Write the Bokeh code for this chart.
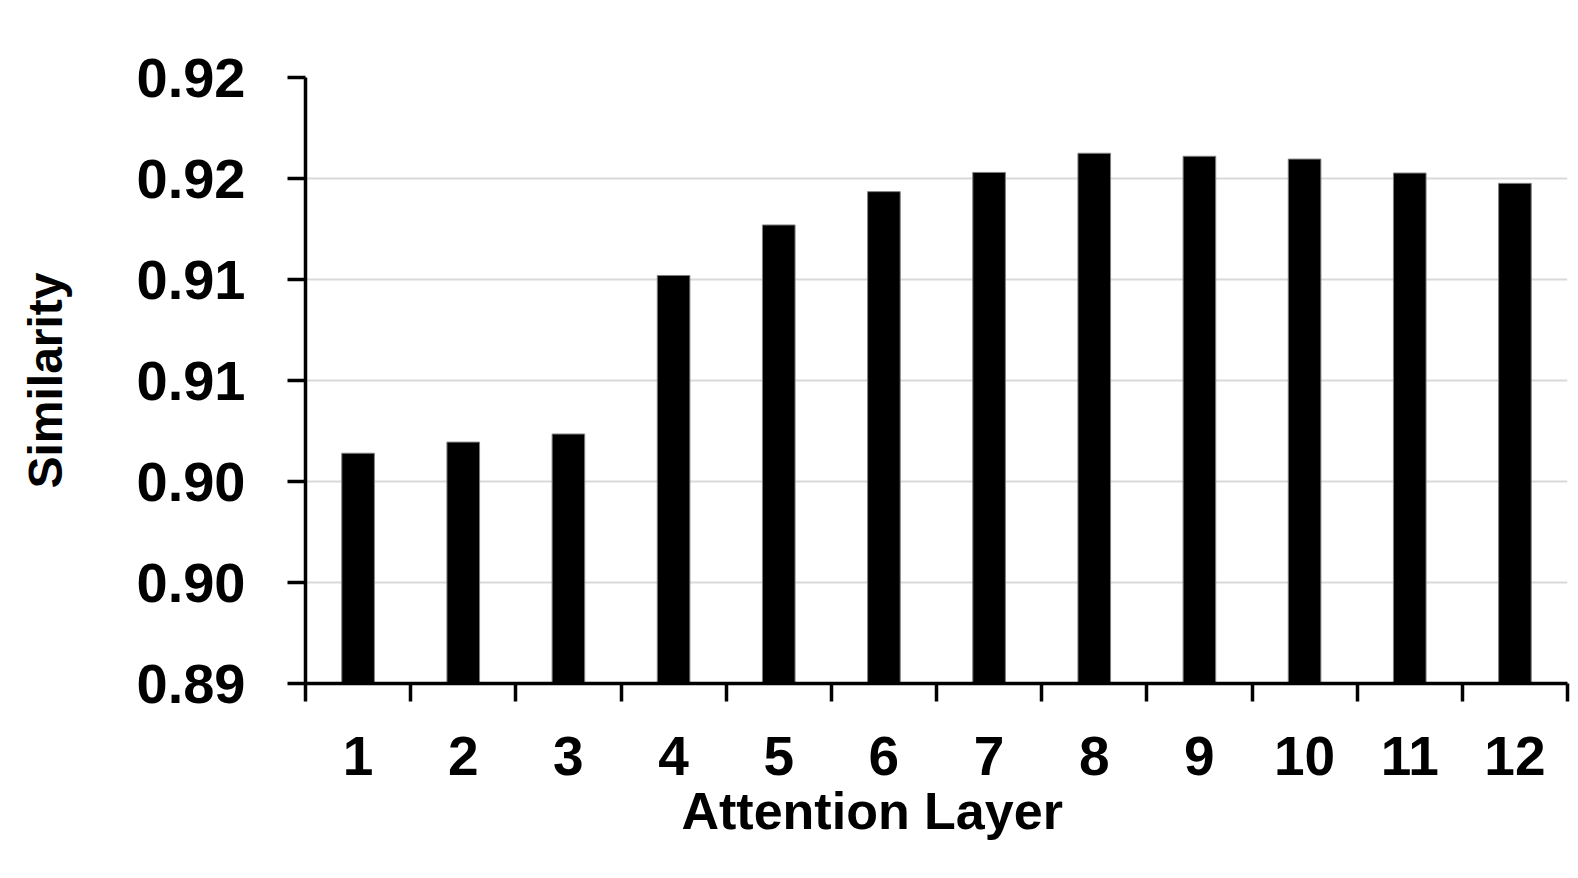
from bokeh.plotting import figure
from bokeh.models import Range1d, FixedTicker, Title, ColumnDataSource
from bokeh.embed import file_html
from bokeh.resources import INLINE

layers = [1, 2, 3, 4, 5, 6, 7, 8, 9, 10, 11, 12]
layer_labels = ["1", "2", "3", "4", "5", "6", "7", "8", "9", "10", "11", "12"]
similarity = [0.9014, 0.90195, 0.90235, 0.9102, 0.9127, 0.91435,
              0.9153, 0.91625, 0.9161, 0.91596, 0.91527, 0.91476]
y_ticks = [0.89, 0.895, 0.90, 0.905, 0.91, 0.915, 0.92]
y_tick_labels = ["0.89", "0.90", "0.90", "0.91", "0.91", "0.92", "0.92"]
x_title = "Attention Layer"
y_title = "Similarity"

FONT = "Liberation Sans"

p = figure(width=1570, height=870, output_backend="svg", toolbar_location=None,
           x_range=Range1d(0.5, 12.5), y_range=Range1d(0.89, 0.92),
           min_border_left=305, min_border_right=3, min_border_top=77,
           min_border_bottom=187)
p.outline_line_color = None
p.background_fill_color = "white"
p.border_fill_color = "white"

src = ColumnDataSource(dict(x=layers, top=similarity))
p.vbar(x="x", top="top", bottom=0.89, width=0.31, source=src,
       fill_color="black", line_color="#7f7f7f", line_width=1)

# x axis
xa = p.xaxis[0]
xa.ticker = FixedTicker(ticks=layers, minor_ticks=[v - 0.5 for v in layers] + [layers[-1] + 0.5])
xa.major_label_overrides = {v: s for v, s in zip(layers, layer_labels)}
xa.major_tick_out = 0
xa.major_tick_in = 0
xa.minor_tick_out = 18
xa.minor_tick_in = 0
xa.minor_tick_line_width = 3.5
xa.minor_tick_line_color = "black"
xa.axis_line_width = 3.5
xa.axis_line_color = "black"
xa.major_label_text_font = FONT
xa.major_label_text_font_style = "bold"
xa.major_label_text_font_size = "55px"
xa.major_label_text_color = "black"
xa.major_label_standoff = 35

# y axis
ya = p.yaxis[0]
ya.ticker = FixedTicker(ticks=y_ticks, minor_ticks=[])
ya.major_label_overrides = {v: s for v, s in zip(y_ticks, y_tick_labels)}
ya.major_tick_out = 18
ya.major_tick_in = 0
ya.major_tick_line_width = 3.5
ya.major_tick_line_color = "black"
ya.minor_tick_out = 0
ya.minor_tick_in = 0
ya.axis_line_width = 3.5
ya.axis_line_color = "black"
ya.major_label_text_font = FONT
ya.major_label_text_font_style = "bold"
ya.major_label_text_font_size = "56px"
ya.major_label_text_color = "black"
ya.major_label_standoff = 42
ya.axis_label = y_title
ya.axis_label_text_font = FONT
ya.axis_label_text_font_style = "bold"
ya.axis_label_text_font_size = "48px"
ya.axis_label_text_color = "black"
ya.axis_label_standoff = 62

p.xgrid.visible = False
p.ygrid.ticker = FixedTicker(ticks=y_ticks)
p.ygrid.grid_line_color = "#d9d9d9"
p.ygrid.grid_line_width = 2

p.add_layout(Title(text=x_title, text_font=FONT, text_font_style="bold",
                   text_font_size="52px", text_color="black",
                   align="left", offset=376, standoff=4), "below")

open("out.html", "w").write(file_html(p, INLINE))
